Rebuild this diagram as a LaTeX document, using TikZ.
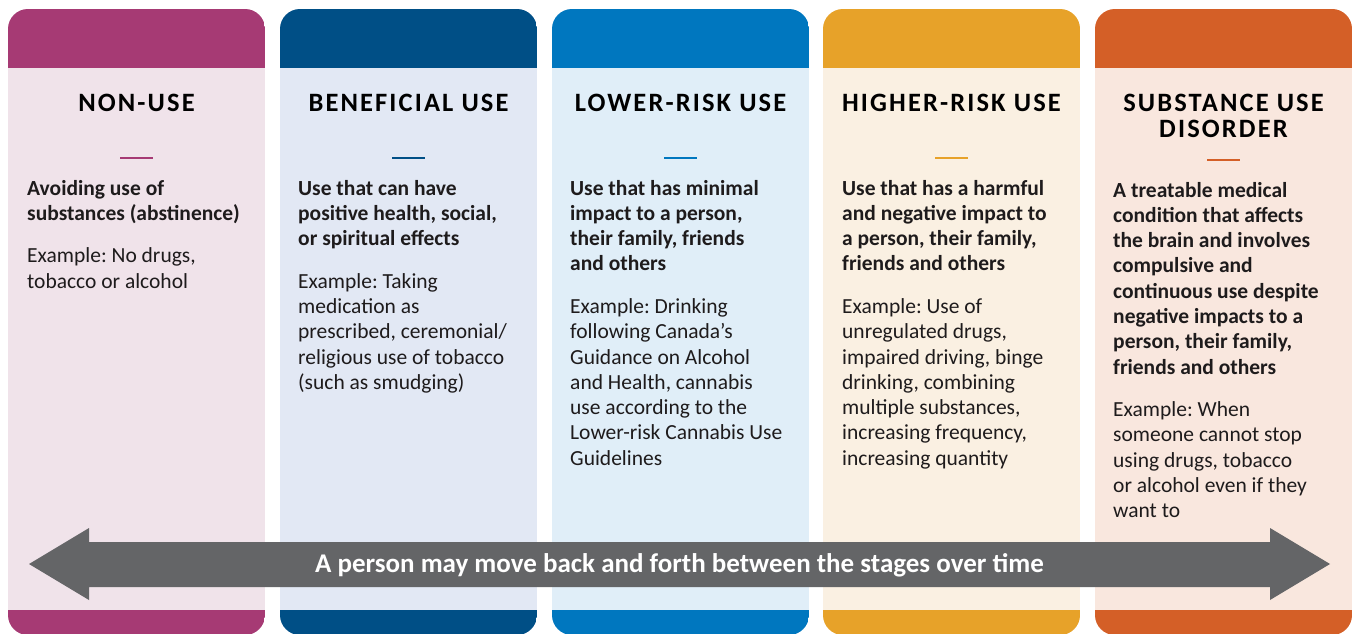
\documentclass[tikz,border=0pt]{standalone}
\usepackage{fontspec}
\setmainfont{Carlito}
\frenchspacing

% stage colours: header band and card background
\definecolor{plumhead}{HTML}{A63A74}
\definecolor{plumback}{HTML}{F0E3EA}
\definecolor{navyhead}{HTML}{004F86}
\definecolor{navyback}{HTML}{E2E8F4}
\definecolor{bluehead}{HTML}{0077BF}
\definecolor{blueback}{HTML}{E0EEF8}
\definecolor{goldhead}{HTML}{E7A229}
\definecolor{goldback}{HTML}{FAF0E2}
\definecolor{rusthead}{HTML}{D45F27}
\definecolor{rustback}{HTML}{F9E7DE}
\definecolor{arrowgrey}{HTML}{646567}
\definecolor{inktext}{HTML}{1E1B1C}

\tikzset{
  stagetitle/.style={anchor=base, inner sep=0pt, text=black},
  stagebody/.style={anchor=base west, inner sep=0pt, text=inktext},
  titlerule/.style={line width=2.5pt},
  bandlabel/.style={anchor=base, inner sep=0pt, text=white,
    font=\bfseries\fontsize{27}{30}\selectfont},
}

% rounded card: x position, header colour, background colour
\newcommand{\stagecard}[3]{%
  \begin{scope}
    \clip[rounded corners=20pt] (#1,9) rectangle ++(257,626);
    \fill[#3] (#1,9) rectangle ++(257,626);
    \fill[#2] (#1,9) rectangle ++(257,59);
    \fill[#2] (#1,610) rectangle ++(257,30);
  \end{scope}}

% centred, letter-spaced title block
\newcommand{\titleblock}[1]{\parbox[t]{250pt}{\centering
  \fontsize{26.5}{26}\bfseries\addfontfeature{LetterSpace=8}\selectfont #1}}

% bold statement followed by the example paragraph
\newcommand{\bodyblock}[2]{\parbox[t]{250pt}{\raggedright
  \fontsize{21.5}{25.3}\selectfont\textbf{#1}\par\vspace{17.2pt}#2}}

\begin{document}
\begin{tikzpicture}[x=1pt,y=-1pt]
\useasboundingbox (0,0) rectangle (1353,634);

\stagecard{8}{plumhead}{plumback}
\stagecard{280}{navyhead}{navyback}
\stagecard{552}{bluehead}{blueback}
\stagecard{823}{goldhead}{goldback}
\stagecard{1095}{rusthead}{rustback}

% titles
\node[stagetitle] (title1) at (136.5,111.5) {\titleblock{NON-USE}};
\node[stagetitle] (title2) at (408.5,111.5) {\titleblock{BENEFICIAL USE}};
\node[stagetitle] (title3) at (680.5,111.5) {\titleblock{LOWER-RISK USE}};
\node[stagetitle] (title4) at (951.5,111.5) {\titleblock{HIGHER-RISK USE}};
\node[stagetitle] (title5) at (1223.5,111.5) {\titleblock{SUBSTANCE USE\\DISORDER}};

% short rules under the titles
\draw[titlerule, plumhead] (120,158) -- (153,158);
\draw[titlerule, navyhead] (392,158) -- (425,158);
\draw[titlerule, bluehead] (664,158) -- (697,158);
\draw[titlerule, goldhead] (935,158) -- (968,158);
\draw[titlerule, rusthead] (1207,160) -- (1240,160);

% descriptions
\node[stagebody] (body1) at (27,195) {\bodyblock
  {Avoiding use of\\substances (abstinence)}
  {Example: No drugs,\\tobacco or alcohol}};
\node[stagebody] (body2) at (298,195) {\bodyblock
  {Use that can have\\positive health, social,\\or spiritual effects}
  {Example: Taking\\medication as\\prescribed, ceremonial/\\religious use of tobacco\\(such as smudging)}};
\node[stagebody] (body3) at (570,195) {\bodyblock
  {Use that has minimal\\impact to a person,\\their family, friends\\and others}
  {Example: Drinking\\following Canada’s\\Guidance on Alcohol\\and Health, cannabis\\use according to the\\Lower-risk Cannabis Use\\Guidelines}};
\node[stagebody] (body4) at (842,195) {\bodyblock
  {Use that has a harmful\\and negative impact to\\a person, their family,\\friends and others}
  {Example: Use of\\unregulated drugs,\\impaired driving, binge\\drinking, combining\\multiple substances,\\increasing frequency,\\increasing quantity}};
\node[stagebody] (body5) at (1113,197) {\bodyblock
  {A treatable medical\\condition that affects\\the brain and involves\\compulsive and\\continuous use despite\\negative impacts to a\\person, their family,\\friends and others}
  {Example: When\\someone cannot stop\\using drugs, tobacco\\or alcohol even if they\\want to}};

% two-headed arrow along the bottom
\fill[arrowgrey] (29,564) -- (89,528) -- (89,542) -- (1270,542) -- (1270,528)
  -- (1330,564) -- (1270,600) -- (1270,587) -- (89,587) -- (89,600) -- cycle;
\node[bandlabel] (move) at (679.5,572)
  {A person may move back and forth between the stages over time};
\end{tikzpicture}
\end{document}
